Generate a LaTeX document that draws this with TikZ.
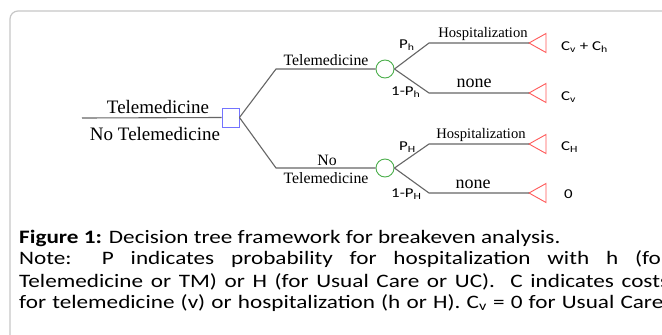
\documentclass[tikz,border=0pt]{standalone}
\usepackage{fontspec}
\setmainfont{Liberation Serif}
\newfontfamily\calfont[FakeStretch=1.25]{Carlito}
\newfontfamily\capfont[FakeStretch=1.22]{Carlito}
\begin{document}
\begin{tikzpicture}[x=1pt,y=-1pt,
  frame/.style={draw=black!22,line width=1.2pt,rounded corners=8pt},
  branch/.style={draw=black!60,line width=1.1pt},
  decbox/.style={draw=blue!55,line width=0.9pt,minimum width=17pt,minimum height=19pt,inner sep=0pt},
  chance/.style={draw=green!55!black!70,line width=0.9pt,circle,minimum size=18pt,inner sep=0pt},
  termtri/.style={draw=red!65,line width=0.9pt},
  serlab/.style={font=\fontsize{#1}{#1}\selectfont,anchor=base,inner sep=0pt},
  sanlab/.style={font=\calfont\fontsize{13.5}{13.5}\selectfont,anchor=base west,inner sep=0pt},
  caplab/.style={font=\capfont\fontsize{19}{22}\selectfont,anchor=base west,inner sep=0pt}]
\useasboundingbox (0,0) rectangle (662,335);
\clip (0,0) rectangle (662,335);
\fill[white] (0,0) rectangle (662,335);
\draw[frame] (10,345) -- (10,11) -- (680,11);
% nodes
\coordinate (r0) at (82,118);
\node[decbox] (dec) at (230.5,117.5) {};
\coordinate (j1) at (276,69);
\coordinate (j2) at (276,168);
\node[chance] (c1) at (385,69) {};
\node[chance] (c2) at (385,168) {};
\coordinate (k1) at (429,43);
\coordinate (k2) at (429,93);
\coordinate (k3) at (429,144);
\coordinate (k4) at (429,193);
\foreach \n/\y in {t1/43,t2/93,t3/144,t4/193}{
  \coordinate (\n) at (529,\y);
  \draw[termtri] (\n) -- ++(17,-9.5) -- ++(0,19) -- cycle;
}
% connectors
\draw[branch] (r0) -- (dec.west);
\draw[branch] (dec.east) -- (j1) -- (c1.west);
\draw[branch] (dec.east) -- (j2) -- (c2.west);
\draw[branch] (c1.east) -- (k1) -- (t1);
\draw[branch] (c1.east) -- (k2) -- (t2);
\draw[branch] (c2.east) -- (k3) -- (t3);
\draw[branch] (c2.east) -- (k4) -- (t4);
% serif labels
\node[serlab=19] (l1) at (158,113) {Telemedicine};
\node[serlab=19] (l2) at (155,140) {No Telemedicine};
\node[serlab=15.8] (l3) at (326,65) {Telemedicine};
\node[serlab=15.8] (l4) at (327,165) {No};
\node[serlab=15.8] (l5) at (326,183) {Telemedicine};
\node[serlab=14.6] (l6) at (483,37) {Hospitalization};
\node[serlab=14.6] (l7) at (481,138) {Hospitalization};
\node[serlab=18] (l8) at (474,87) {none};
\node[serlab=18] (l9) at (473,188) {none};
% probabilities
\node[sanlab] (p1) at (399,48) {P\textsubscript{h}};
\node[sanlab] (p2) at (391,95) {1-P\textsubscript{h}};
\node[sanlab] (p3) at (399,150) {P\textsubscript{H}};
\node[sanlab] (p4) at (391,197) {1-P\textsubscript{H}};
% payoffs
\node[sanlab] (v1) at (561,50) {C\textsubscript{v} + C\textsubscript{h}};
\node[sanlab] (v2) at (561,100) {C\textsubscript{v}};
\node[sanlab] (v3) at (561,150) {C\textsubscript{H}};
\node[sanlab] (v4) at (564,198) {0};
% caption
\node[caplab] (cap1) at (19,243) {\textbf{Figure 1:} Decision tree framework for breakeven analysis.};
\node[caplab] (cap2) at (19,264) {\makebox[650pt][s]{Note: P indicates probability for hospitalization with h (for}};
\node[caplab] (cap3) at (19,287) {\makebox[650pt][s]{Telemedicine or TM) or H (for Usual Care or UC).\ \ C indicates costs}};
\node[caplab] (cap4) at (19,308) {\makebox[650pt][s]{for telemedicine (v) or hospitalization (h or H). C\textsubscript{v} = 0 for Usual Care.}};
\end{tikzpicture}
\end{document}
